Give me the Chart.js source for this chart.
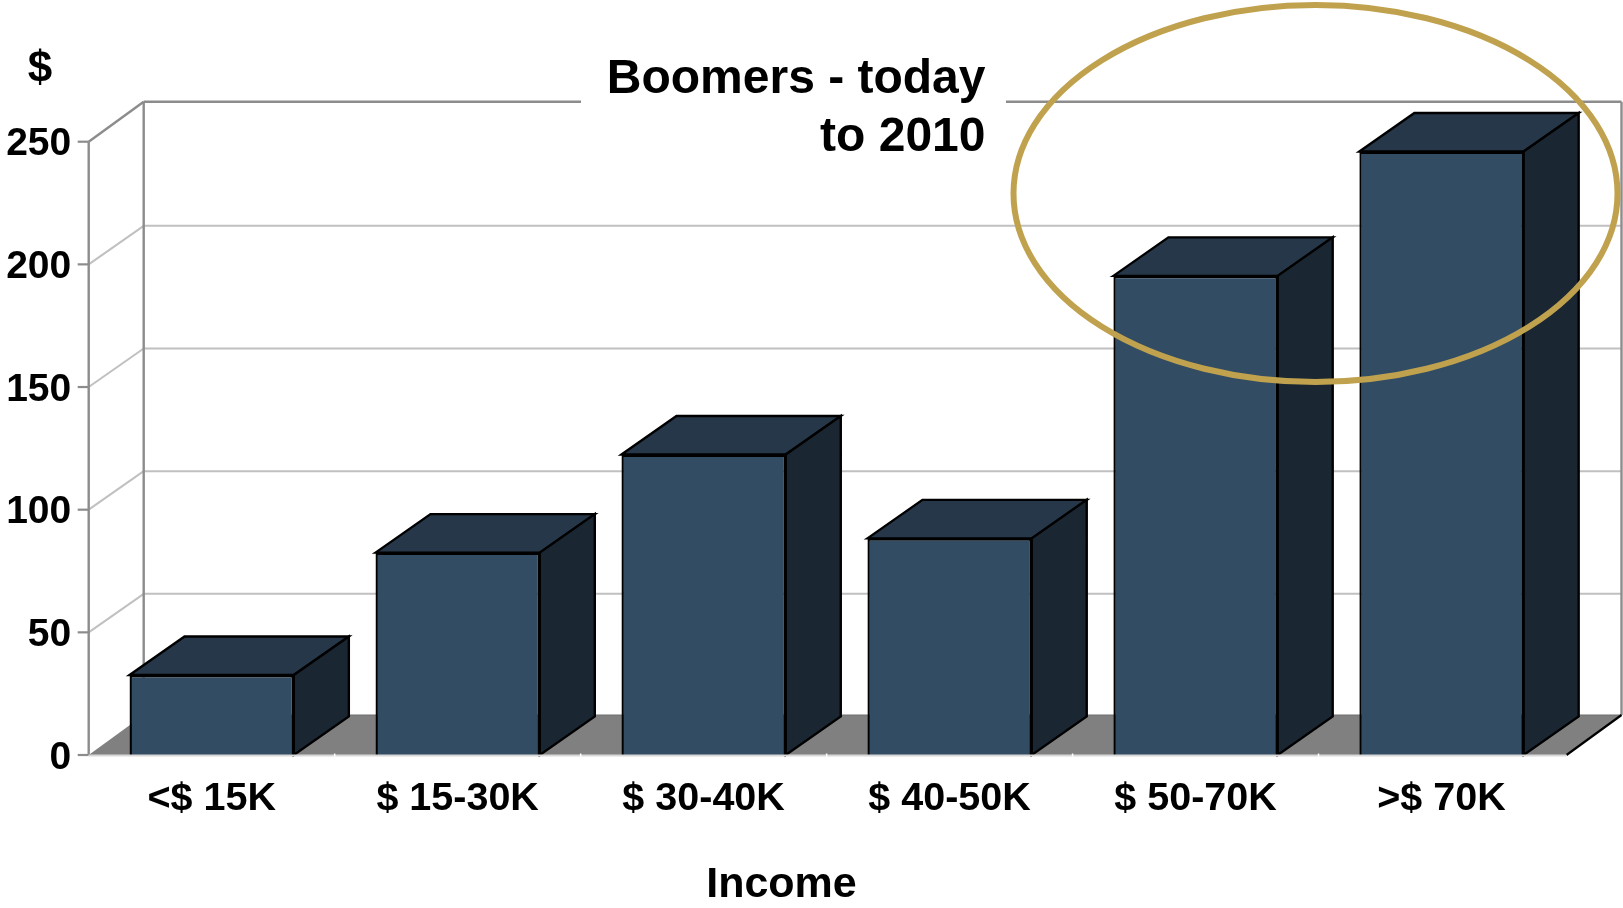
<!DOCTYPE html>
<html><head><meta charset="utf-8">
<style>html,body{margin:0;padding:0;background:#fff}canvas{display:block}</style>
<script src="https://cdn.jsdelivr.net/npm/chart.js@4"></script>
</head><body>
<canvas id="c" width="1623" height="908"></canvas>
<script>
const categories = ['<$ 15K', '$ 15-30K', '$ 30-40K', '$ 40-50K', '$ 50-70K', '>$ 70K'];
const values = [32.6, 82.5, 122.5, 88.3, 195.3, 246];
const titleLines = ['Boomers - today', 'to 2010'];
const xAxisTitle = 'Income';
const yAxisTitle = '$';
const yMax = 250;
const yStep = 50;

const FONT = '"Liberation Sans", Arial, sans-serif';
const DX = 55, DY = 38.5, DY_FRAME = 40;
const FRONT = '#324D63', TOP = '#253748', SIDE = '#1A2733', FLOOR = '#808080';
const WALL = '#8C8C8C', GRID = '#C0C0C0', GOLD = '#C0A24E';

function line(ctx, x1, y1, x2, y2, color, w) {
  ctx.strokeStyle = color; ctx.lineWidth = w;
  ctx.beginPath(); ctx.moveTo(x1, y1); ctx.lineTo(x2, y2); ctx.stroke();
}
function poly(ctx, pts, fill, stroke) {
  ctx.beginPath();
  pts.forEach((p, i) => i ? ctx.lineTo(p[0], p[1]) : ctx.moveTo(p[0], p[1]));
  ctx.closePath();
  ctx.fillStyle = fill; ctx.fill();
  if (stroke) { ctx.strokeStyle = stroke; ctx.lineWidth = 2.4; ctx.lineJoin = 'miter'; ctx.stroke(); }
}

const box3d = {
  id: 'box3d',
  beforeDatasetsDraw(chart) {
    const { ctx, scales: { x, y } } = chart;
    const L = x.left, R = x.right + 2, B = y.getPixelForValue(0), T = y.getPixelForValue(yMax);
    ctx.save();
    poly(ctx, [[L, B], [L + DX, B - DY_FRAME], [R + DX, B - DY_FRAME], [R, B]], FLOOR);
    line(ctx, L + DX, B - DY_FRAME, R + DX, B - DY_FRAME, '#6E6E6E', 1);
    for (let v = yStep; v < yMax; v += yStep) {
      const py = y.getPixelForValue(v);
      line(ctx, L, py, L + DX, py - DY, GRID, 2);
      line(ctx, L + DX, py - DY, R + DX, py - DY, GRID, 2);
    }
    for (let v = 0; v <= yMax; v += yStep) {
      const py = y.getPixelForValue(v);
      line(ctx, L - 11, py, L, py, WALL, 2.2);
    }
    line(ctx, L, T, L, B, WALL, 2.4);
    line(ctx, L + DX, T - DY_FRAME, L + DX, B - DY_FRAME, WALL, 2.4);
    line(ctx, L, T, L + DX, T - DY_FRAME, WALL, 2.4);
    line(ctx, L + DX, T - DY_FRAME, R + DX, T - DY_FRAME, WALL, 2.4);
    line(ctx, R + DX, T - DY_FRAME, R + DX, B - DY_FRAME, WALL, 2.4);
    line(ctx, R, B, R + DX, B - DY_FRAME, '#000', 2.2);
    ctx.restore();
  },
  afterDatasetsDraw(chart) {
    const { ctx, scales: { x, y } } = chart;
    const B = y.getPixelForValue(0);
    ctx.save();
    chart.getDatasetMeta(0).data.forEach(bar => {
      const l = bar.x - bar.width / 2, r = bar.x + bar.width / 2, t = bar.y;
      poly(ctx, [[l, t], [l + DX, t - DY], [r + DX, t - DY], [r, t]], TOP, '#000');
      poly(ctx, [[r, t], [r + DX, t - DY], [r + DX, B - DY], [r, B]], SIDE, '#000');
    });
    line(ctx, x.left, B + 0.5, x.right + 2, B + 0.5, '#D8D8D8', 2);
    const step = (x.right - x.left) / categories.length;
    for (let i = 1; i < categories.length; i++) {
      const px = x.left + i * step;
      line(ctx, px, B - 1.5, px, B + 2.5, '#FFFFFF', 1.5);
    }
    ctx.restore();
  },
  afterDraw(chart) {
    const { ctx } = chart;
    ctx.save();
    ctx.fillStyle = '#fff';
    ctx.fillRect(581, 96, 425, 10);
    ctx.fillStyle = '#000';
    ctx.textAlign = 'right'; ctx.textBaseline = 'alphabetic';
    ctx.font = 'bold 48px ' + FONT;
    ctx.fillText(titleLines[0], 985.5, 92.5);
    ctx.fillText(titleLines[1], 985.5, 151);
    ctx.textAlign = 'center';
    ctx.font = 'bold 43px ' + FONT;
    ctx.fillText(xAxisTitle, 781.5, 897);
    ctx.font = 'bold 44px ' + FONT;
    ctx.fillText(yAxisTitle, 40, 82);
    ctx.strokeStyle = GOLD; ctx.lineWidth = 6;
    ctx.beginPath();
    ctx.ellipse(1315.5, 193.5, 302, 188.5, 0, 0, Math.PI * 2);
    ctx.stroke();
    ctx.restore();
  }
};

new Chart(document.getElementById('c'), {
  type: 'bar',
  data: {
    labels: categories,
    datasets: [{
      data: values,
      backgroundColor: FRONT,
      borderColor: '#000',
      borderWidth: 2.4,
      barPercentage: 0.668,
      categoryPercentage: 1
    }]
  },
  plugins: [box3d],
  options: {
    responsive: false,
    animation: false,
    layout: { autoPadding: false, padding: { top: 141.7, right: 1623 - 1564.5, left: 0, bottom: 0 } },
    plugins: { legend: { display: false }, title: { display: false }, tooltip: { enabled: false } },
    scales: {
      x: {
        afterFit(s) { s.height = 153; },
        grid: { display: false, drawTicks: false },
        border: { display: false },
        ticks: { color: '#000', font: { family: FONT, size: 39.5, weight: 'bold' }, padding: 20, maxRotation: 0, autoSkip: false }
      },
      y: {
        min: 0, max: yMax,
        afterFit(s) { s.width = 88.7; },
        grid: { display: false, drawTicks: false },
        border: { display: false },
        ticks: { stepSize: yStep, color: '#000', font: { family: FONT, size: 39, weight: 'bold' }, padding: 17.5, labelOffset: 3 }
      }
    }
  }
});
</script>
</body></html>
